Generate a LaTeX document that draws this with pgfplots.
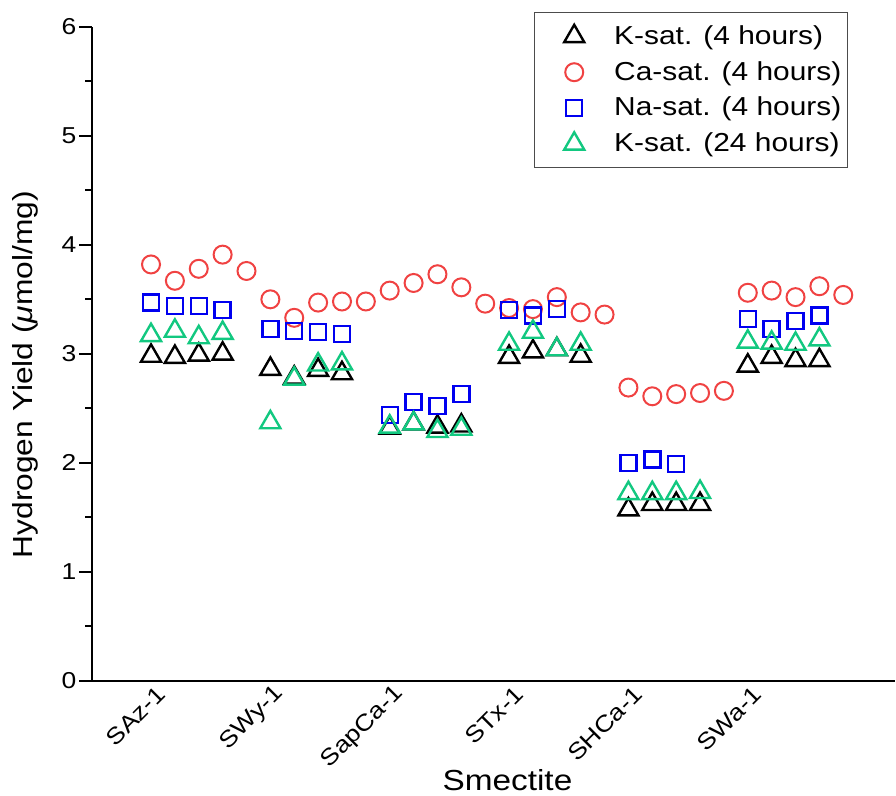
\documentclass[border=0pt]{standalone}
\usepackage{fontspec}
\setmainfont{Liberation Sans}[FakeStretch=1.15]
\usepackage{pgfplots}
\pgfplotsset{compat=1.18}

\definecolor{ksat}{RGB}{0,0,0}
\definecolor{casat}{RGB}{240,66,66}
\definecolor{nasat}{RGB}{0,0,240}
\definecolor{ksatlong}{RGB}{18,200,128}

\newcommand{\ticksize}{\fontsize{11.5}{13}\selectfont}
\newcommand{\labelsize}{\fontsize{14.5}{17}\selectfont}
\newcommand{\legendsize}{\fontsize{13}{15}\selectfont}

\begin{document}
\begin{tikzpicture}
\begin{axis}[
  scale only axis,
  width=401.5pt, height=326.9pt,
  axis lines*=left,
  axis line style={line width=1pt},
  xmin=-2.46, xmax=31.18,
  ymin=0, ymax=6,
  xtick={0,5,10,15,20,25},
  xticklabels={SAz-1,SWy-1,SapCa-1,STx-1,SHCa-1,SWa-1},
  xtick style={draw=none},
  xticklabel style={rotate=45, anchor=east, font=\ticksize, xshift=8.2pt, yshift=-2.4pt},
  ytick={0,1,2,3,4,5,6},
  minor y tick num=1,
  tick align=outside,
  major tick length=6.5pt,
  minor tick length=3.5pt,
  ytick style={line width=1pt, black},
  yticklabel style={font=\ticksize, xshift=2pt},
  /pgf/number format/assume math mode=true,
  xlabel={Smectite},
  xlabel style={font=\labelsize, at={(axis description cs:0.517,-0.1672)}, anchor=base},
  ylabel={Hydrogen Yield ({\itshape μ}mol/mg)},
  ylabel style={font=\fontsize{13.8}{16}\selectfont, at={(axis description cs:-0.0830,0.468)}, anchor=center, rotate=0},
  legend cell align=left,
  legend style={at={(axis description cs:0.941,1.023)}, anchor=north east,
    font=\legendsize, draw=black!70, line width=0.6pt,
    row sep=3pt, inner xsep=0pt, inner ysep=4.5pt,
    nodes={inner xsep=3pt}},
  legend image code/.code={%
    \path[draw=none, fill=none] (0pt,0pt) -- (37pt,0pt);
    \draw[only marks] plot coordinates {(20pt,0pt)};},
  clip=false,
]
\coordinate (O) at (rel axis cs:0,0);

% K-saturated, 4 hours
\addplot[only marks, mark=triangle, mark size=5.8pt, ksat, line width=1.2pt] coordinates {
  (0,2.98) (1,2.97) (2,2.99) (3,3.00)
  (5,2.86) (6,2.78) (7,2.85) (8,2.82)
  (10,2.32) (11,2.36) (12,2.33) (13,2.34)
  (15,2.97) (16,3.02) (17,3.04) (18,2.98)
  (20,1.57) (21,1.62) (22,1.62) (23,1.62)
  (25,2.89) (26,2.97) (27,2.94) (28,2.94)
};
\addlegendentry{K-sat. (4 hours)}

% Ca-saturated, 4 hours
\addplot[only marks, mark=o, mark size=4.5pt, casat, line width=1pt] coordinates {
  (0,3.82) (1,3.67) (2,3.78) (3,3.91) (4,3.76)
  (5,3.50) (6,3.33) (7,3.47) (8,3.48) (9,3.48)
  (10,3.58) (11,3.65) (12,3.73) (13,3.61) (14,3.46)
  (15,3.42) (16,3.41) (17,3.52) (18,3.38) (19,3.36)
  (20,2.69) (21,2.61) (22,2.63) (23,2.64) (24,2.66)
  (25,3.56) (26,3.58) (27,3.52) (28,3.62) (29,3.54)
};
\addlegendentry{Ca-sat. (4 hours)}

% Na-saturated, 4 hours
\addplot[only marks, mark=square, mark size=4pt, nasat, line width=1.2pt] coordinates {
  (0,3.47) (1,3.44) (2,3.44) (3,3.40)
  (5,3.23) (6,3.21) (7,3.20) (8,3.18)
  (10,2.44) (11,2.56) (12,2.52) (13,2.63)
  (15,3.40) (16,3.35) (17,3.41)
  (20,2.00) (21,2.03) (22,1.99)
  (25,3.32) (26,3.23) (27,3.30) (28,3.35)
};
\addlegendentry{Na-sat. (4 hours)}

% K-saturated, 24 hours
\addplot[only marks, mark=triangle, mark size=5.8pt, ksatlong, line width=1.2pt] coordinates {
  (0,3.17) (1,3.21) (2,3.15) (3,3.19)
  (5,2.37) (6,2.77) (7,2.90) (8,2.91)
  (10,2.33) (11,2.36) (12,2.29) (13,2.31)
  (15,3.09) (16,3.20) (17,3.04) (18,3.09)
  (20,1.72) (21,1.72) (22,1.72) (23,1.73)
  (25,3.11) (26,3.10) (27,3.09) (28,3.13)
};
\addlegendentry{K-sat. (24 hours)}
\end{axis}
\pgfresetboundingbox
\path[use as bounding box] (O) ++(-46.15pt,-57.65pt) rectangle ++(448pt,398pt);
\end{tikzpicture}
\end{document}
